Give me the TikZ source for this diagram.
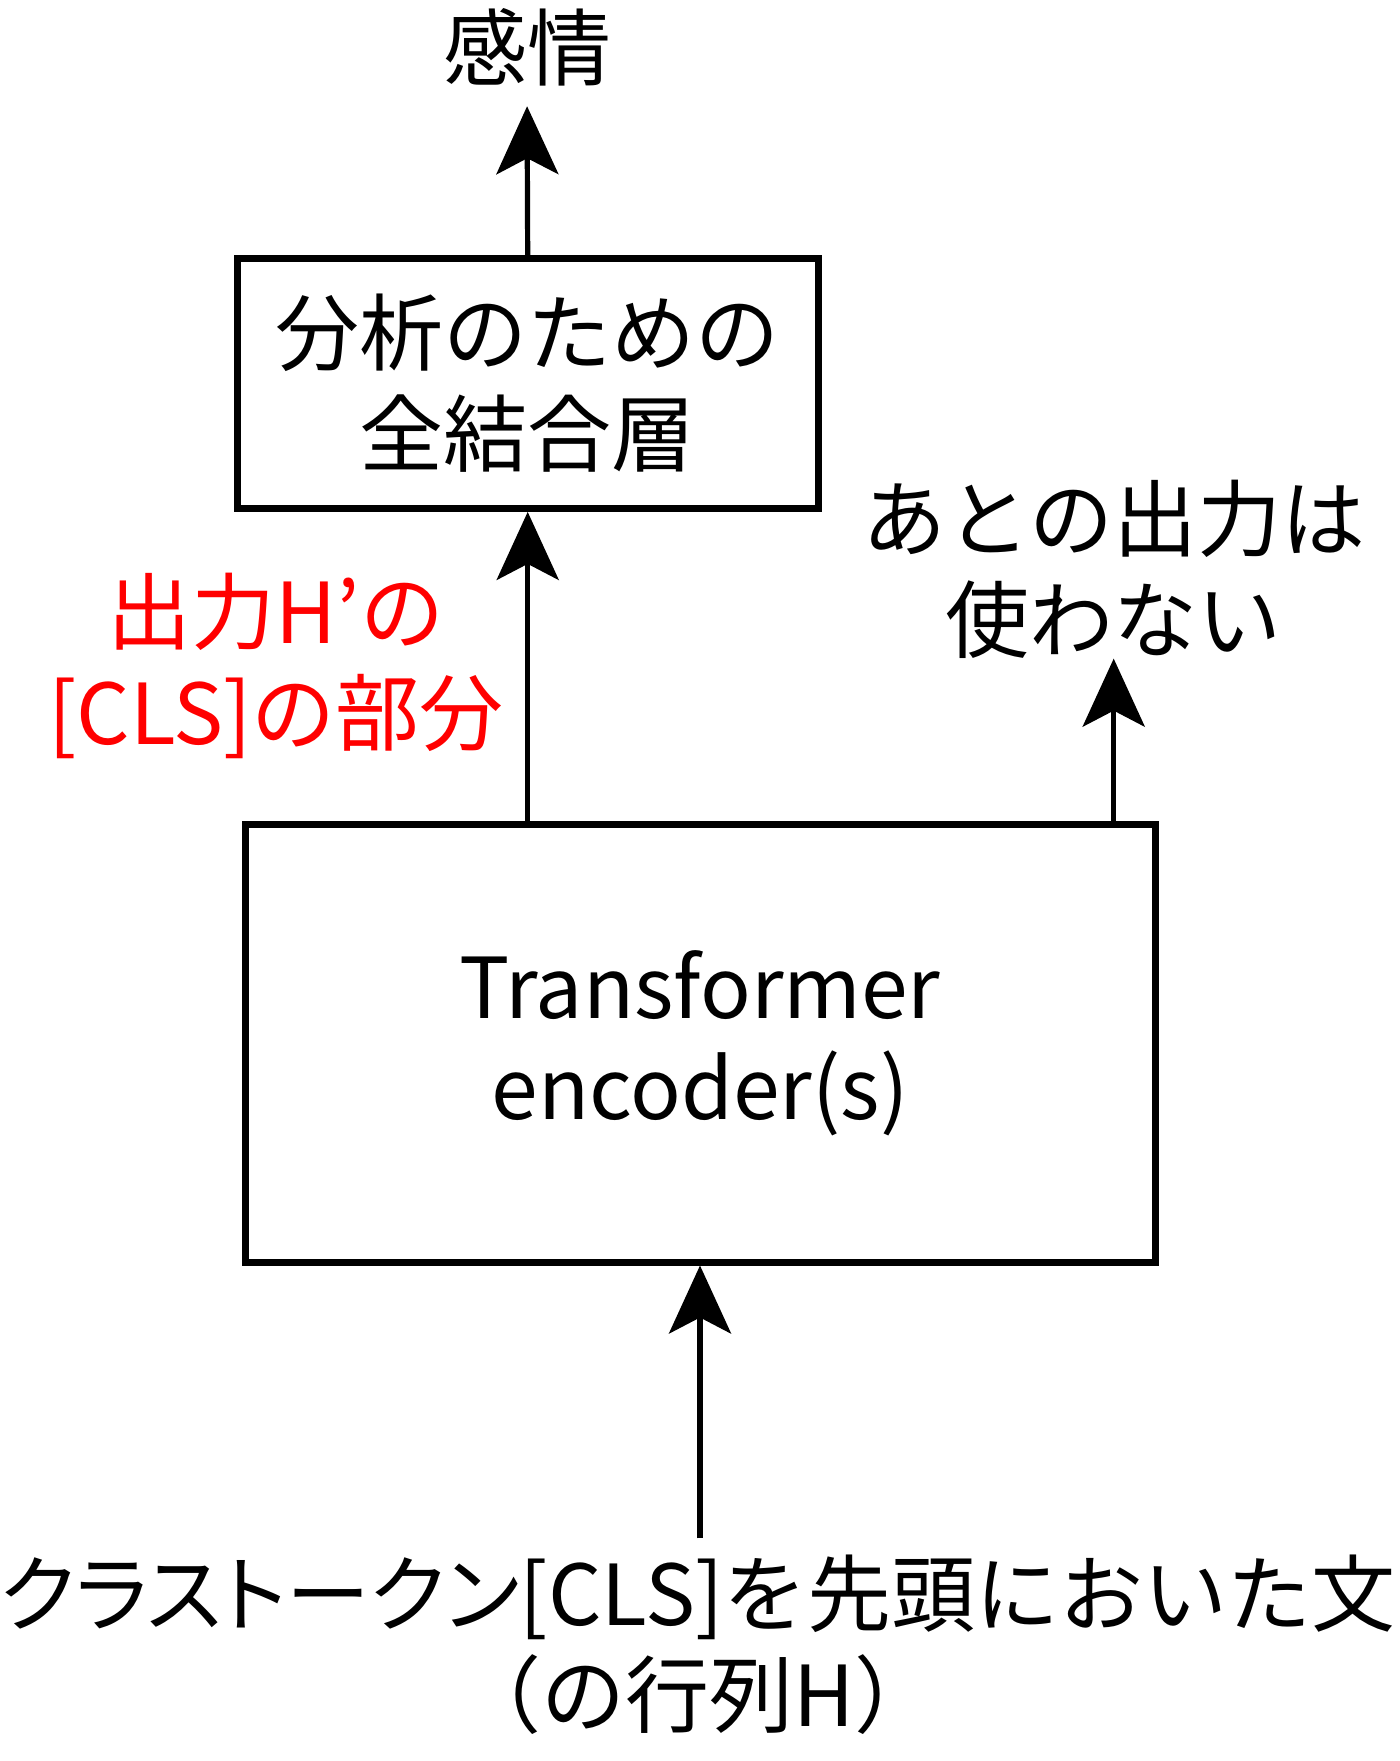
\documentclass[tikz,border=0pt]{standalone}
\usepackage{fontspec}
\setmainfont{Noto Sans CJK JP}
\newfontfamily\paltfont[RawFeature=+palt]{Noto Sans CJK JP}
\usetikzlibrary{arrows.meta}
\usetikzlibrary{positioning}
\definecolor{label-red}{RGB}{255, 0, 0}
\tikzset{
  layer/.style={draw=black, line width=3.5pt, align=center, inner sep=0pt},
  tag/.style={align=center, inner sep=0pt},
  flow/.style={line width=2.6pt, -{Stealth[length=34pt, width=31pt, inset=8pt]}}
}

\begin{document}
\begin{tikzpicture}[x=0.5pt, y=-0.5pt, font=\fontsize{42}{50.5}\selectfont]
\useasboundingbox (0,0) rectangle (1400,1761);
% boxes
\node[layer, minimum width=290.5pt, minimum height=125pt] (fc) at (527.7,383.4) {分析のための\\全結合層};
\node[layer, minimum width=455pt, minimum height=219pt] (enc) at (700,1043) {Transformer\\encoder(s)};
% texts
\node[tag] (emotion) at (527,47) {感情};
\node[tag, text=label-red] (cls) at (276,666) {出力H’の\\{}[CLS]の部分};
\node[tag] (rest) at (1113.7,569) {あとの出力は\\使わない};
\node[tag] (source) at (698,1644.5) {{\paltfont クラストークン}[CLS]を先頭においた文\\（の行列H）};
% arrows
\draw[flow, shorten >=10pt] (fc.north) -- (emotion.south);
\draw[flow] (fc.south |- enc.north) -- (fc.south);
\draw[flow] (rest.south |- enc.north) -- (rest.south);
\draw[flow, shorten <=8pt] (enc.south |- source.north) -- (enc.south);
\end{tikzpicture}
\end{document}
